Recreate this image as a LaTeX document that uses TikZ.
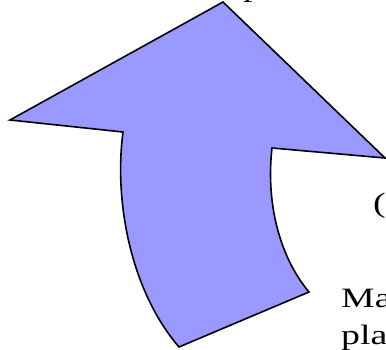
\documentclass[tikz,border=0pt]{standalone}
\usepackage{fontspec}
\setmainfont{Liberation Serif}
\newcommand{\widetxt}[1]{\scalebox{1.35}[1]{#1}}

\tikzset{
  arrowfill/.style={fill=arrowblue, draw=black, line width=1.6pt, line join=miter},
  cuttext/.style={anchor=base west, inner sep=0pt, font=\fontsize{28}{34}\selectfont}
}
\definecolor{arrowblue}{HTML}{9999FF}

\begin{document}
\begin{tikzpicture}[x=1pt, y=-1pt]
        % Rahmen
        \useasboundingbox (0,0) rectangle (386,349);
        \clip (0,0) rectangle (386,349);

        % gebogener Pfeil
        \draw[arrowfill] (223,2) -- (385,158) -- (272,148)
          .. controls (266,200) and (278,255) .. (309,292)
          -- (179,347)
          .. controls (130,290) and (114,200) .. (123,132)
          -- (10,120) -- cycle;

        % abgeschnittene Texte
        \node[cuttext] (toptxt) at (243,-4) {\widetxt{p}};
        \node[cuttext] (midtxt) at (373,212) {\widetxt{(}};
        \node[cuttext] (botone) at (341,307) {\widetxt{Ma}};
        \node[cuttext] (bottwo) at (341,344) {\widetxt{pla}};
\end{tikzpicture}
\end{document}
